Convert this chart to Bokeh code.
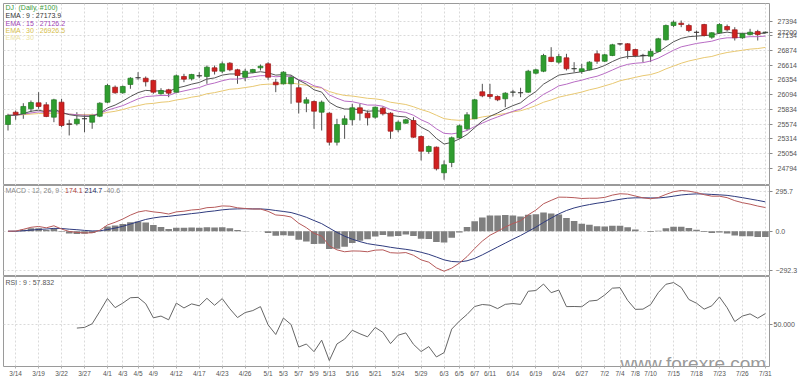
from bokeh.plotting import figure
from bokeh.layouts import column
from bokeh.models import FixedTicker, Range1d, Label, ColumnDataSource, Grid
from bokeh.embed import file_html
from bokeh.resources import INLINE

# ---------------- data ----------------
dates = ["3/13","3/14","3/15","3/18","3/19","3/20","3/21","3/22","3/25","3/26","3/27","3/28","3/29",
"4/1","4/2","4/3","4/4","4/5","4/8","4/9","4/10","4/11","4/12","4/15","4/16","4/17","4/18","4/22","4/23","4/24","4/25","4/26","4/29","4/30",
"5/1","5/2","5/3","5/6","5/7","5/8","5/9","5/10","5/13","5/14","5/15","5/16","5/17","5/20","5/21","5/22","5/23","5/24","5/27","5/28","5/29","5/30","5/31",
"6/3","6/4","6/5","6/6","6/7","6/10","6/11","6/12","6/13","6/14","6/17","6/18","6/19","6/20","6/21","6/24","6/25","6/26","6/27","6/28",
"7/1","7/2","7/3","7/4","7/5","7/8","7/9","7/10","7/11","7/12","7/15","7/16","7/17","7/18","7/19","7/22","7/23","7/24","7/25","7/26","7/29","7/30","7/31"]

opens = [25566,25784,25756,25844,25950,25915,25696,25961,25579,25579,
25667,25607,25713,25961,26226,26127,26274,26392,26385,26345,
26110,26180,26138,26416,26375,26425,26416,26569,26509,26651,
26534,26403,26492,26569,26640,26315,26286,26286,26216,25943,
25973,25784,25766,25253,25566,25650,25862,25766,25696,25855,
25766,25473,25590,25637,25354,25089,25165,24712,24894,25331,
25490,25667,26145,26097,26062,26021,26138,26127,26138,26474,
26509,26757,26669,26746,26552,26504,26534,26817,26686,26787,
26994,26994,26893,26787,26775,26858,27065,27318,27358,27318,
27199,27335,27111,27189,27300,27242,27100,27159,27212,27190]

highs = [25756,25814,25943,25991,26138,25961,26021,26021,25650,25784,
25756,25756,25961,26286,26256,26256,26403,26492,26416,26357,
26209,26198,26451,26463,26463,26492,26610,26610,26681,26669,
26552,26552,26552,26628,26669,26375,26509,26433,26345,26049,
25991,25991,25784,25667,25726,25933,25933,25814,25885,25885,
25784,25637,25667,25696,25372,25195,25177,24930,25354,25566,
25784,26021,26286,26286,26080,26138,26180,26216,26534,26552,
26817,26934,26817,26817,26669,26640,26686,26876,26817,26994,
27005,27005,26906,26817,26906,27100,27335,27406,27406,27348,
27229,27348,27199,27358,27335,27288,27182,27259,27242,27210]

lows = [25460,25650,25667,25784,25844,25696,25607,25519,25372,25549,
25430,25490,25696,25943,26110,26110,26198,26357,26239,26110,
26097,26049,26120,26315,26345,26385,26286,26451,26474,26509,
26286,26332,26474,26522,26357,26138,26274,25933,25761,25784,
25490,25460,25195,25195,25313,25549,25637,25549,25667,25726,
25313,25430,25579,25331,24930,25048,24753,24588,24811,25313,
25460,25667,26049,26021,25979,25872,26062,26049,26127,26451,
26492,26669,26640,26522,26492,26463,26522,26640,26669,26775,
26964,26729,26757,26669,26669,26845,27052,27288,27288,27199,
27065,27123,27082,27171,27217,27052,27082,27141,27052,27180]

closes = [25726,25743,25885,25956,25885,25708,26003,25549,25566,25660,
25670,25726,25943,26256,26127,26239,26385,26395,26322,26138,
26168,26120,26428,26368,26451,26430,26580,26509,26640,26534,
26433,26509,26539,26598,26403,26269,26492,26403,25961,26003,
25802,25961,25253,25566,25667,25862,25766,25685,25872,25756,
25448,25607,25650,25342,25094,25177,24783,24854,25331,25543,
25738,26003,26074,26062,26003,26120,26141,26130,26509,26534,
26787,26681,26769,26552,26555,26552,26669,26686,26799,26976,
26990,26876,26787,26790,26858,27082,27318,27376,27335,27229,
27195,27141,27189,27335,27242,27100,27171,27199,27159,27200]

ema9 = [25730,25730,25760,25800,25820,25790,25840,25780,25740,25720,
25710,25710,25760,25860,25910,25980,26060,26130,26170,26160,
26160,26150,26210,26240,26280,26310,26370,26390,26440,26460,
26460,26470,26480,26500,26480,26440,26450,26440,26350,26280,
26180,26140,25960,25880,25840,25840,25830,25800,25810,25800,
25730,25710,25700,25620,25520,25450,25320,25220,25250,25310,
25390,25510,25630,25710,25770,25840,25900,25950,26060,26150,
26280,26360,26440,26460,26480,26500,26530,26560,26610,26680,
26740,26770,26770,26780,26790,26850,26940,27030,27090,27120,
27130,27140,27150,27180,27200,27180,27180,27180,27180,27180]

ema15 = [25730,25730,25750,25770,25790,25780,25810,25770,25750,25740,
25730,25730,25760,25820,25860,25900,25960,26020,26060,26070,
26080,26080,26130,26160,26190,26220,26270,26300,26340,26370,
26370,26390,26410,26430,26430,26410,26420,26420,26360,26320,
26250,26220,26090,26030,25980,25970,25940,25910,25910,25890,
25830,25800,25780,25730,25650,25590,25490,25410,25400,25420,
25460,25530,25590,25650,25700,25750,25800,25840,25920,26000,
26100,26170,26250,26280,26320,26350,26390,26420,26470,26530,
26590,26630,26650,26660,26690,26740,26810,26880,26940,26970,
27000,27020,27040,27080,27100,27100,27110,27120,27120,27130]

ema30 = [25730,25730,25740,25750,25760,25760,25770,25760,25750,25740,
25740,25740,25750,25780,25800,25830,25870,25900,25930,25940,
25960,25970,26000,26020,26050,26070,26110,26130,26160,26190,
26200,26220,26240,26270,26280,26280,26290,26300,26280,26260,
26230,26210,26150,26110,26080,26070,26050,26030,26020,26000,
25960,25940,25920,25880,25830,25790,25730,25670,25650,25640,
25650,25670,25700,25720,25740,25760,25790,25810,25850,25900,
25960,26000,26050,26080,26110,26140,26180,26210,26250,26290,
26340,26370,26400,26430,26450,26490,26550,26600,26650,26690,
26720,26750,26770,26810,26840,26860,26880,26900,26910,26930]

macd_line = [0,1,14,29,35,25,40,16,-2,-9,
-13,-12,7,46,66,90,119,142,152,143,
137,127,143,148,157,161,174,177,187,185,
173,168,164,164,147,120,116,105,59,26,
-16,-36,-108,-138,-152,-146,-147,-152,-140,-138,
-159,-162,-158,-178,-212,-229,-271,-296,-273,-236,
-188,-128,-73,-30,-1,31,57,77,121,156,
203,228,252,251,248,242,244,244,250,267,
277,274,260,247,240,249,272,292,301,296,
286,270,259,259,248,226,211,200,186,175]

signal_line = [0,0,3,8,13,16,21,20,15,11,
6,2,3,12,23,36,53,70,87,98,
106,110,117,123,130,136,144,150,158,163,
165,166,165,165,161,153,146,138,122,103,
79,56,23,-9,-37,-59,-77,-92,-101,-109,
-119,-127,-134,-143,-156,-171,-191,-212,-224,-227,
-219,-201,-175,-146,-117,-88,-59,-32,-1,30,
65,97,128,153,172,186,197,207,215,226,
236,244,247,247,246,246,251,259,268,273,
276,275,272,269,265,257,248,238,228,217]

macd_hist = [0,1,11,21,22,9,19,-4,-17,-20,
-19,-14,4,34,43,54,66,72,65,45,
31,17,26,25,27,25,30,27,29,22,
8,2,-1,-1,-14,-33,-30,-33,-63,-77,
-95,-92,-131,-129,-115,-87,-70,-60,-39,-29,
-40,-35,-24,-35,-56,-58,-80,-84,-49,-9,
31,73,102,116,116,119,116,109,122,126,
138,131,124,98,76,56,47,37,35,41,
41,30,13,0,-6,3,21,33,33,23,
10,-5,-13,-10,-17,-31,-37,-38,-42,-42]

rsi_start = 9   # RSI(9) begins at the 10th bar
rsi9 = [47.53,47.97,50.57,59.4,68.53,62.06,65.26,69.09,69.35,64.86,
54.82,56.06,53.41,65.28,61.83,64.73,63.36,68.69,63.75,68.46,
61.22,54.99,58.56,59.97,62.77,49.81,42.95,54.64,50.04,34.02,
36.2,30.73,38.94,24.43,36.25,39.67,45.98,43.46,41.31,47.98,
44.46,36.46,42.47,44.08,35.97,30.83,34.36,27.0,30.04,46.78,
52.47,57.2,62.85,64.28,63.81,61.36,64.41,64.97,64.37,73.71,
74.22,78.82,72.7,74.55,62.78,62.87,62.7,66.71,67.29,71.03,
75.89,76.25,67.19,60.84,60.98,64.24,72.68,78.66,79.87,76.41,
67.85,65.21,60.98,63.36,69.68,62.01,52.15,56.08,57.62,54.54,57.832]

tick_labels = ["3/14","3/19","3/22","3/27","4/1","4/3","4/5","4/9","4/12","4/17","4/23","4/26","5/1","5/3","5/7","5/9","5/13","5/16","5/21","5/24","5/29","6/3","6/5","6/7","6/11","6/14","6/19","6/24","6/27","7/2","7/4","7/8","7/10","7/15","7/18","7/23","7/26","7/31"]
price_ticks = [24794,25054,25314,25574,25834,26094,26354,26614,26874,27134,27394]
last_price = 27200
macd_ticks = [-292.3, 0, 295.7]
rsi_ticks = [50]
legend_top = [("DJ", "#3a9a3a"), ("(Daily, #100)", "#3a9a3a"), ("EMA : 9 : 27173.9", "#333333"),
              ("EMA : 15 : 27126.2", "#a043b4"), ("EMA : 30 : 26926.5", "#d6bd4a"), ("EMA : 30", "#ebe3a6")]
macd_legend = [("MACD : 12, 26, 9 :", "#8a8a8a"), ("174.1", "#a83a3a"), ("214.7", "#22285a"), ("-40.6", "#8a8a8a")]
rsi_legend = "RSI : 9 : 57.832"
watermark = "www.forexre.com"

# ---------------- drawing ----------------
idx = list(range(len(dates)))
xt = [dates.index(t) for t in tick_labels]
xr = Range1d(-0.59, 99.54)
FONT = "Liberation Sans"
GRID = "#dadada"

def style_y(ax, standoff):
    ax.axis_line_color = None
    ax.major_tick_in = 0
    ax.major_tick_out = 3
    ax.minor_tick_line_color = None
    ax.major_tick_line_color = "#888888"
    ax.major_label_text_font = FONT
    ax.major_label_text_font_size = "7px"
    ax.major_label_text_color = "#555555"
    ax.major_label_standoff = standoff

def panel(h, yr, top=0, xaxis=False):
    p = figure(frame_width=766, frame_height=h, x_range=xr, y_range=yr, output_backend="svg",
               toolbar_location=None, x_axis_location=("below" if xaxis else None), y_axis_location="right",
               min_border_left=3, min_border_top=top, min_border_bottom=0, min_border_right=0)
    p.outline_line_color = "#9a9a9a"
    p.grid.visible = False
    p.background_fill_color = "white"
    p.add_layout(Grid(dimension=0, ticker=FixedTicker(ticks=xt), grid_line_color=GRID, grid_line_dash="2 2"))
    return p

def add_text(p, txt, x, y, color, size="7px", xu="screen", yu="screen", baseline="middle"):
    p.add_layout(Label(x=x, y=y, x_units=xu, y_units=yu, text=txt, text_font=FONT,
                       text_font_size=size, text_color=color, text_baseline=baseline))

# price panel
p1 = panel(182, Range1d(24487, 27707), top=3)
style_y(p1.yaxis[0], 5)
p1.yaxis.ticker = FixedTicker(ticks=price_ticks + [last_price])
p1.add_layout(Grid(dimension=1, ticker=FixedTicker(ticks=price_ticks), grid_line_color=GRID, grid_line_dash="2 2"))
up = [c >= o for o, c in zip(opens, closes)]
doji = [abs(c - o) < 15 for o, c in zip(opens, closes)]
src = ColumnDataSource(dict(
    x=idx, top=[max(o, c) for o, c in zip(opens, closes)], bottom=[min(o, c) for o, c in zip(opens, closes)],
    high=highs, low=lows,
    fill=["#2f9d2f" if u else "#d02020" for u in up],
    edge=["#333333" if d else ("#237a23" if u else "#9a1818") for u, d in zip(up, doji)]))
p1.segment(x0="x", y0="low", x1="x", y1="high", source=src, line_color="#505050", line_width=1)
p1.line(idx, ema30, line_color="#e8c872", line_width=1)
p1.line(idx, ema15, line_color="#b86cc4", line_width=1)
p1.line(idx, ema9, line_color="#555555", line_width=1)
p1.vbar(x="x", width=0.64, top="top", bottom="bottom", source=src, fill_color="fill", line_color="edge", line_width=0.7)
ys = [178.3, 170.0, 162.3, 155.0, 148.3]
add_text(p1, legend_top[0][0], 2, ys[0], legend_top[0][1])
add_text(p1, legend_top[1][0], 15, ys[0], legend_top[1][1])
for (txt, col), y in zip(legend_top[2:], ys[1:]):
    add_text(p1, txt, 2, y, col)

# MACD panel
p2 = panel(91, Range1d(-335, 338))
style_y(p2.yaxis[0], 3)
p2.yaxis.ticker = FixedTicker(ticks=macd_ticks)
p2.yaxis.major_label_overrides = {0: "0.0"}
p2.add_layout(Grid(dimension=1, ticker=FixedTicker(ticks=macd_ticks), grid_line_color=GRID, grid_line_dash="2 2"))
p2.vbar(x=idx, top=macd_hist, bottom=0, width=0.86, fill_color="#7f7f7f", line_color=None)
p2.line(idx, signal_line, line_color="#2f3b7e", line_width=1)
p2.line(idx, macd_line, line_color="#b65a5a", line_width=1)
for (txt, col), xpos in zip(macd_legend, [2, 61.6, 81.1, 100.6]):
    add_text(p2, txt, xpos, 86, col)

# RSI panel
p3 = panel(90, Range1d(20.2, 84.2), xaxis=True)
style_y(p3.yaxis[0], 1)
p3.yaxis.ticker = FixedTicker(ticks=rsi_ticks)
p3.yaxis.major_label_overrides = {50: "50.000"}
p3.add_layout(Grid(dimension=1, ticker=FixedTicker(ticks=rsi_ticks), grid_line_color=GRID, grid_line_dash="2 2"))
ax = p3.xaxis[0]
ax.ticker = FixedTicker(ticks=xt)
ax.major_label_overrides = {i: dates[i] for i in xt}
ax.axis_line_color = None
ax.major_tick_in = 0
ax.major_tick_out = 2
ax.minor_tick_line_color = None
ax.major_tick_line_color = "#b0b0b0"
ax.major_label_text_font = FONT
ax.major_label_text_font_size = "6.5px"
ax.major_label_text_color = "#555555"
ax.major_label_standoff = 1
p3.line(idx[rsi_start:], rsi9, line_color="#666666", line_width=1)
add_text(p3, rsi_legend, 2, 84.3, "#555555")
add_text(p3, watermark, 617, 3, "#9a9a9a", size="19px", baseline="alphabetic")

layout = column(p1, p2, p3)
open("out.html", "w").write(file_html(layout, INLINE))
